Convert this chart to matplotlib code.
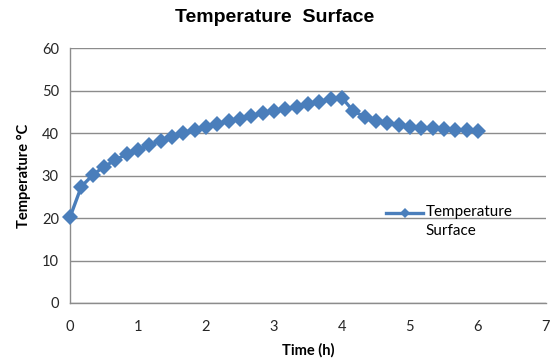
import matplotlib
matplotlib.use("Agg")
import matplotlib.pyplot as plt
from matplotlib.legend_handler import HandlerLine2D

# time in hours, one reading every 10 minutes
time_h = [i / 6 for i in range(37)]
temp_surface = [20.2, 27.4, 30.1, 32.1, 33.6, 35.1, 36.0, 37.2, 38.2, 39.1,
                40.1, 40.8, 41.5, 42.1, 42.9, 43.4, 44.0, 44.6, 45.2, 45.6,
                46.2, 46.9, 47.4, 47.9, 48.3, 45.2, 43.8, 42.9, 42.4, 42.0,
                41.5, 41.3, 41.1, 40.9, 40.7, 40.7, 40.5]
x_ticks = [0, 1, 2, 3, 4, 5, 6, 7]
y_ticks = [0, 10, 20, 30, 40, 50, 60]

blue = "#4A7EBB"
grid = "#8C8C8C"
lbl_font = "Lato"


# legend handle sits next to the first line of a two-line label
class TopLineHandler(HandlerLine2D):
    def create_artists(self, legend, orig_handle, xdescent, ydescent,
                       width, height, fontsize, trans):
        return super().create_artists(legend, orig_handle, xdescent,
                                      ydescent - 1.05 * fontsize, width,
                                      height, fontsize, trans)


fig = plt.figure(figsize=(5.53, 3.64), dpi=100)
ax = fig.add_axes([0.1266, 0.1676, 0.8604, 0.7004])

line, = ax.plot(time_h, temp_surface, color=blue, lw=2.4, marker="D", ms=8,
                markeredgewidth=0, label="Temperature\nSurface",
                clip_on=False, zorder=3)

ax.set_xlim(0, 7)
ax.set_ylim(0, 60)
ax.set_xticks(x_ticks)
ax.set_yticks(y_ticks)
ax.tick_params(length=0, labelsize=10.5, colors="#262626")
ax.tick_params(axis="x", pad=12)
ax.tick_params(axis="y", pad=8)
for lab in ax.get_xticklabels() + ax.get_yticklabels():
    lab.set_family(lbl_font)
ax.yaxis.grid(True, color=grid, lw=1)
ax.set_axisbelow(True)
for s in ["top", "right"]:
    ax.spines[s].set_visible(False)
for s in ["left", "bottom"]:
    ax.spines[s].set_color(grid)
    ax.spines[s].set_linewidth(1)

ax.set_xlabel("Time (h)", fontsize=10.5, fontweight="bold", family=lbl_font, labelpad=7)
ax.set_ylabel("Temperature °C", fontsize=10.5, fontweight="bold", family=lbl_font, labelpad=8)
fig.text(0.497, 0.953, "Temperature  Surface", ha="center", va="center",
         fontsize=14, fontweight="bold", family="Liberation Sans")

leg = ax.legend(handles=[line], loc="upper left", bbox_to_anchor=(0.652, 0.41),
                frameon=False, prop={"family": lbl_font, "size": 11},
                handlelength=2.4, handletextpad=0.15, borderaxespad=0,
                markerscale=0.65, handler_map={line: TopLineHandler()})
leg.get_texts()[0].set_linespacing(1.45)

fig.savefig("out.png", dpi=100)
